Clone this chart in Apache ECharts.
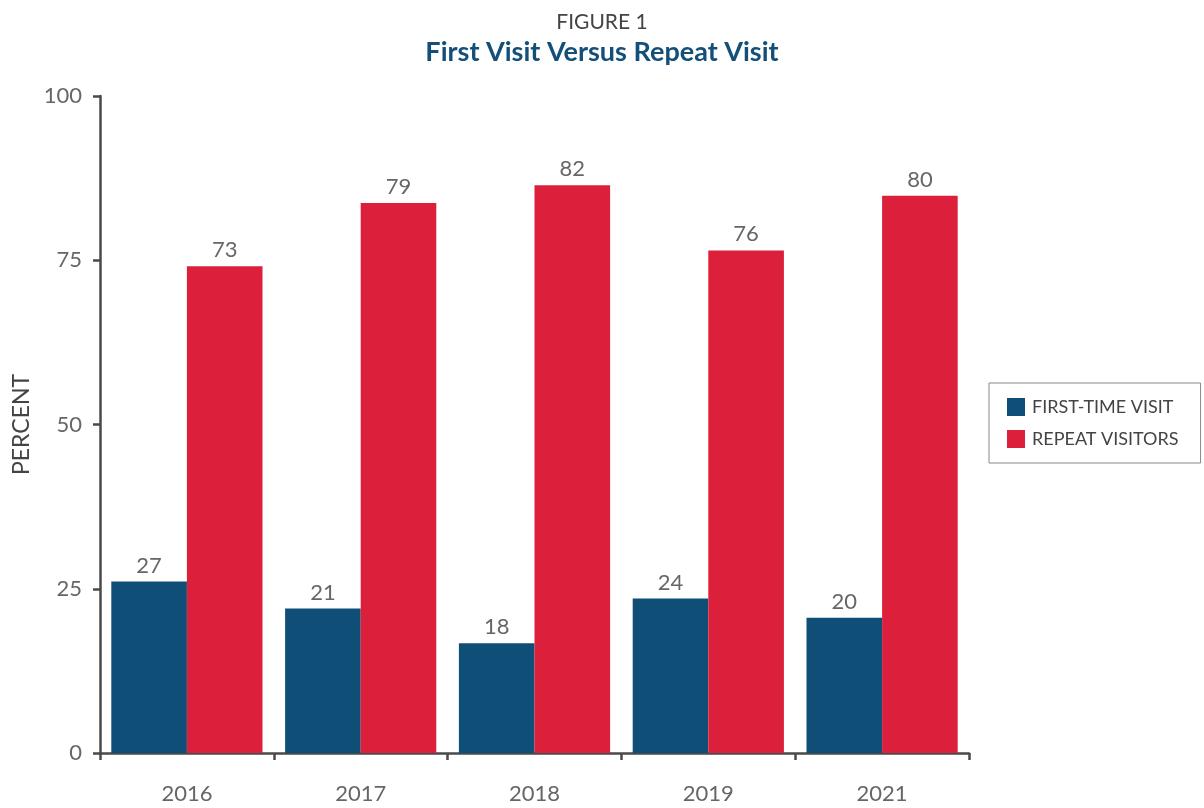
<!DOCTYPE html>
<html>
<head>
<meta charset="utf-8">
<script src="https://cdn.jsdelivr.net/npm/echarts@6/dist/echarts.min.js"></script>
<style>
  html, body { margin: 0; padding: 0; background: #fff; }
  #chart { width: 1204px; height: 808px; }
</style>
</head>
<body>
<div id="chart"></div>
<script>
// years on the x axis
const years = ["2016", "2017", "2018", "2019", "2021"];
// bar heights as drawn in the figure
const firstTimeValues = [26.1, 22.0, 16.7, 23.5, 20.6];
const repeatValues = [74.1, 83.7, 86.4, 76.5, 84.8];
// numbers printed above the bars
const firstTimeLabels = ["27", "21", "18", "24", "20"];
const repeatLabels = ["73", "79", "82", "76", "80"];
const yTicks = { min: 0, max: 100, interval: 25 };

const font = "Lato, 'Open Sans', sans-serif";
const axisColor = "#4a4a4a";

let labelStyle = function (labels) {
  return {
    show: true,
    position: "top",
    distance: 5,
    fontFamily: font,
    fontSize: 22,
    color: "#666",
    formatter: function (p) {
      return labels[p.dataIndex];
    },
  };
};

let option = {
  animation: false,
  textStyle: { fontFamily: font },
  title: [
    {
      text: "FIGURE 1",
      left: "center",
      top: 7,
      textStyle: { fontFamily: font, fontSize: 21, fontWeight: "normal", color: "#444" },
    },
    {
      text: "First Visit Versus Repeat Visit",
      left: "center",
      top: 34,
      textStyle: { fontFamily: font, fontSize: 27, fontWeight: "bold", color: "#134f79" },
    },
  ],
  legend: {
    orient: "vertical",
    left: 989,
    top: 383,
    padding: [15, 22, 15, 18],
    itemWidth: 18,
    itemHeight: 18,
    itemGap: 14,
    icon: "rect",
    borderColor: "#888",
    borderWidth: 1,
    textStyle: { fontFamily: font, fontSize: 18, color: "#444", padding: [0, 0, 0, 2] },
    data: ["FIRST-TIME VISIT", "REPEAT VISITORS"],
  },
  grid: {
    left: 100,
    right: 235,
    top: 96,
    bottom: 55,
    containLabel: false,
  },
  xAxis: {
    type: "category",
    data: years,
    axisLine: { lineStyle: { color: axisColor, width: 2.5 } },
    axisTick: { show: true, length: 7, lineStyle: { color: axisColor, width: 2.5 } },
    axisLabel: { fontFamily: font, fontSize: 22, color: "#666", margin: 30 },
  },
  yAxis: {
    type: "value",
    min: yTicks.min,
    max: yTicks.max,
    interval: yTicks.interval,
    name: "PERCENT",
    nameLocation: "middle",
    nameRotate: 90,
    nameGap: 66,
    nameTextStyle: { fontFamily: font, fontSize: 23, color: "#444" },
    splitLine: { show: false },
    axisLine: { show: true, lineStyle: { color: axisColor, width: 2.5 } },
    axisTick: { show: true, length: 7, lineStyle: { color: axisColor, width: 2.5 } },
    axisLabel: { fontFamily: font, fontSize: 22, color: "#666", margin: 18 },
  },
  series: [
    {
      name: "FIRST-TIME VISIT",
      type: "bar",
      barGap: "0%",
      barCategoryGap: "13%",
      itemStyle: { color: "#0f4e77" },
      label: labelStyle(firstTimeLabels),
      data: firstTimeValues,
    },
    {
      name: "REPEAT VISITORS",
      type: "bar",
      barGap: "0%",
      barCategoryGap: "13%",
      itemStyle: { color: "#dc1f3b" },
      label: labelStyle(repeatLabels),
      data: repeatValues,
    },
  ],
};

let chart = echarts.init(document.getElementById("chart"));
chart.setOption(option);
</script>
</body>
</html>
